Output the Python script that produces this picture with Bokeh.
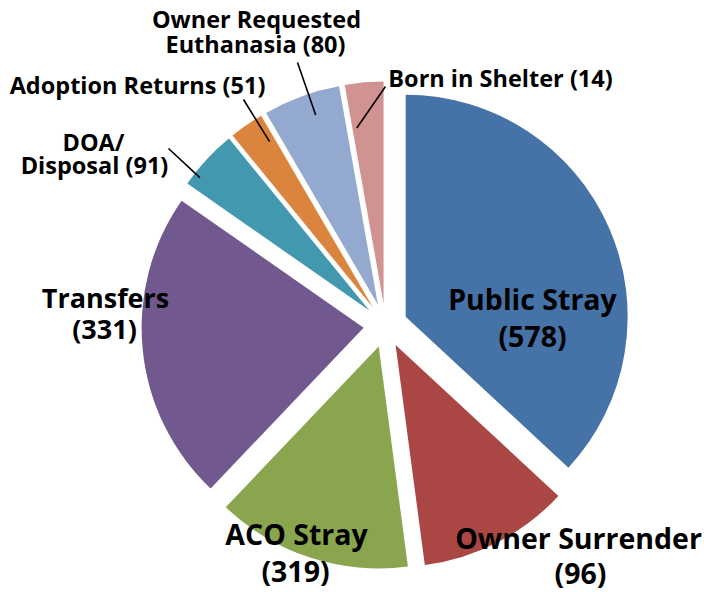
import numpy as np
from bokeh.plotting import figure
from bokeh.models import Range1d, ColumnDataSource
from bokeh.embed import file_html
from bokeh.resources import INLINE
from bokeh.core.properties import value

# ---------------- data ----------------
categories = ["Public Stray", "Owner Surrender", "ACO Stray", "Transfers",
              "DOA/ Disposal", "Adoption Returns", "Owner Requested Euthanasia",
              "Born in Shelter"]
counts = [578, 96, 319, 331, 91, 51, 80, 14]
# share of the circle each slice occupies in the picture (percent)
slice_share = [36.9, 11.0, 14.2, 22.6, 4.4, 2.5, 5.6, 2.8]

# ---------------- styles / layout ----------------
colors = ["#4572A7", "#AA4643", "#89A54E", "#71588F",
          "#4198AF", "#DB843D", "#93A9CF", "#D19392"]
W, H = 704, 592
CX, CY = 385, H - 325      # pie centre (data units = pixels)
R = 222                    # radius
EXPLODE = 22               # explode distance
FONT = "Open Sans"

# words on the first label line (None = one line)
first_line_words = [2, 2, 2, 1, 1, None, 2, None]
# label line centres in screen pixels (x, y of each line)
label_pos = [
    [(532, 298), (532, 335)],
    [(578, 537), (580, 572)],
    [(296, 533), (295, 570)],
    [(105, 297), (104, 328)],
    [(93, 141), (94, 164)],
    [(137, 84)],
    [(256, 18), (255, 43)],
    [(500, 77)],
]
label_size = ["28.5px", "28.5px", "28.5px", "27px", "23.5px", "23.5px", "23.5px", "23.5px"]
# leader lines: (slice index, angle fraction in slice, radial fraction, outer end in screen px)
leaders = [
    (4, 0.20, 0.97, (168, 148)),
    (5, 0.81, 0.88, (243, 99)),
    (6, 0.60, 0.90, (297, 62)),
    (7, 0.14, 0.80, (385, 86)),
]

# ---------------- geometry ----------------
share = np.array(slice_share) / np.sum(slice_share)
cum_end = np.cumsum(share) * 360.0
cum_start = cum_end - share * 360.0
mid = (cum_start + cum_end) / 2.0          # clockwise from 12 o'clock (deg)
mid_math = np.radians(90.0 - mid)
ex = CX + EXPLODE * np.cos(mid_math)
ey = CY + EXPLODE * np.sin(mid_math)

src = ColumnDataSource(dict(
    x=ex, y=ey,
    start=np.radians(90.0 - cum_end),
    end=np.radians(90.0 - cum_start),
    color=colors, name=categories, count=counts,
))

p = figure(width=W, height=H, x_range=Range1d(0, W), y_range=Range1d(0, H),
           output_backend="svg", toolbar_location=None,
           x_axis_location=None, y_axis_location=None, min_border=0)
p.grid.visible = False
p.outline_line_color = None
p.background_fill_color = "white"
p.border_fill_color = "white"

p.wedge(x="x", y="y", radius=R, start_angle="start", end_angle="end",
        direction="anticlock", fill_color="color", line_color=None, source=src)

# leader lines
x0, y0, x1, y1 = [], [], [], []
for i, af, rf, (ox, oy) in leaders:
    ang = cum_start[i] + af * (cum_end[i] - cum_start[i])
    a = np.radians(90.0 - ang)
    x0.append(ex[i] + rf * R * np.cos(a))
    y0.append(ey[i] + rf * R * np.sin(a))
    x1.append(ox)
    y1.append(H - oy)
p.segment(x0=x0, y0=y0, x1=x1, y1=y1, line_color="black", line_width=1.6)

# labels
tx, ty, tt, ts = [], [], [], []
for name, n, k, pos, size in zip(categories, counts, first_line_words, label_pos, label_size):
    words = f"{name} ({n})".split(" ")
    if k is None:
        lines = [" ".join(words)]
    else:
        lines = [" ".join(words[:k]), " ".join(words[k:])]
    for line, (px, py) in zip(lines, pos):
        tx.append(px)
        ty.append(H - py)
        tt.append(line)
        ts.append(size)
p.text(x=tx, y=ty, text=tt, text_font=value(FONT), text_font_style="bold",
       text_font_size=ts, text_align="center", text_baseline="middle",
       text_color="black")

open("out.html", "w").write(file_html(p, INLINE))
